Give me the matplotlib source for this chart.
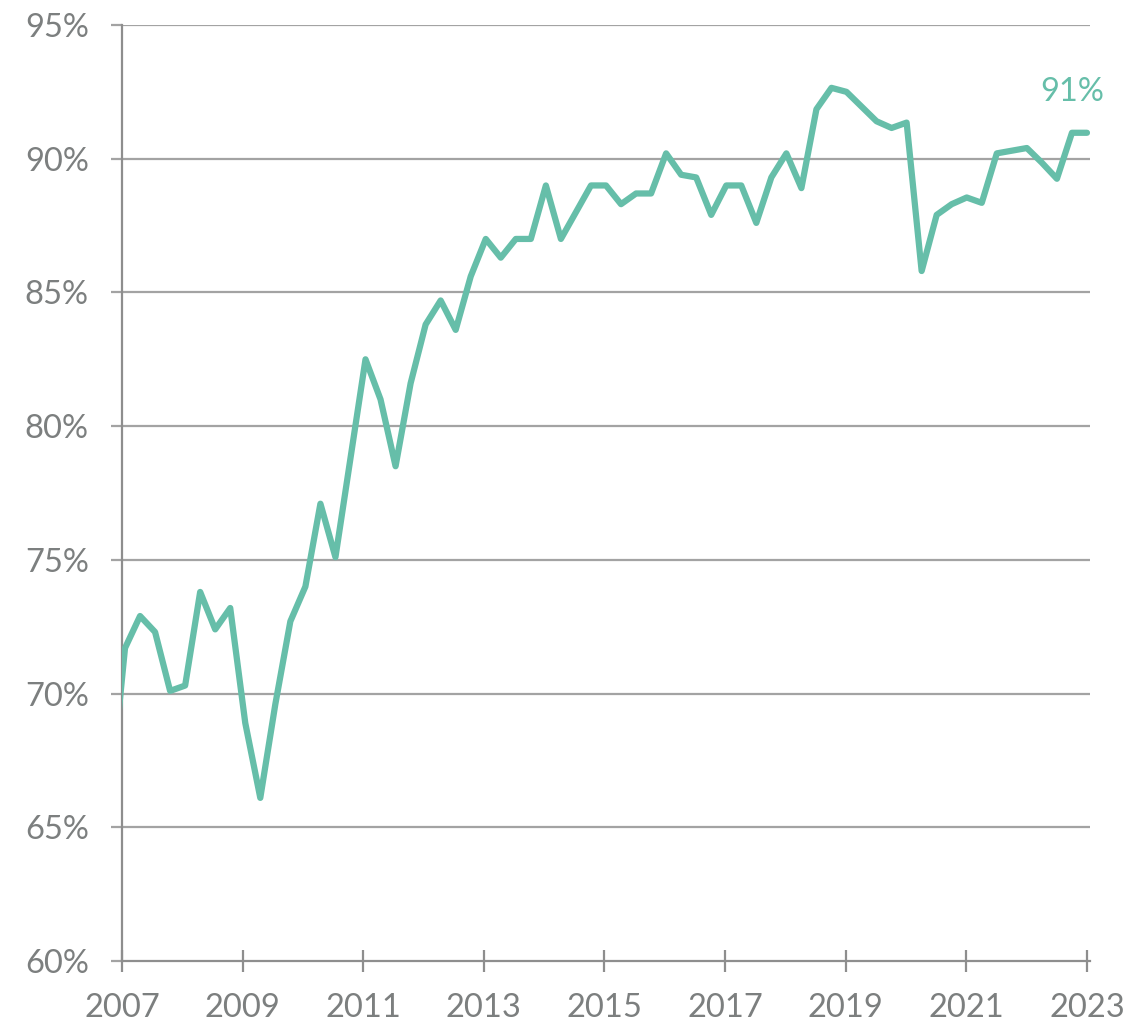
import numpy as np
import matplotlib
matplotlib.use("Agg")
import matplotlib.pyplot as plt

# Quarterly share (%), 2007 .. 2023
prior_value = 66.0  # point just before 2007 (clipped at left edge)
values = [
    71.7, 72.9, 72.3, 70.1, 70.3, 73.8, 72.4, 73.2,   # 2007-2008
    68.9, 66.1, 69.6, 72.7, 74.0, 77.1, 75.1, 78.8,   # 2009-2010
    82.5, 81.0, 78.5, 81.6, 83.8, 84.7, 83.6, 85.6,   # 2011-2012
    87.0, 86.3, 87.0, 87.0, 89.0, 87.0, 88.0, 89.0,   # 2013-2014
    89.0, 88.3, 88.7, 88.7, 90.2, 89.4, 89.3, 87.9,   # 2015-2016
    89.0, 89.0, 87.6, 89.3, 90.2, 88.9, 91.85, 92.65, # 2017-2018
    92.5, 91.95, 91.4, 91.15, 91.35, 85.8, 87.9, 88.3,# 2019-2020
    88.55, 88.35, 90.2, 90.3, 90.4, 89.85, 89.25, 90.97, # 2021-2022
    90.97,                                            # 2023
]
year_ticks = [2007, 2009, 2011, 2013, 2015, 2017, 2019, 2021, 2023]
pct_ticks = [60, 65, 70, 75, 80, 85, 90, 95]
end_label = "91%"

LINE = "#66bea9"
TXT = "#7c7f7f"
GRID = "#a3a3a3"
AXC = "#8e8e8e"
FS = 23.5

x = np.linspace(2007.05, 2023.0, len(values))
xs = np.concatenate([[x[0] - 0.25], x])
ys = np.concatenate([[prior_value], values])

fig = plt.figure(figsize=(11.27, 10.22), dpi=100)
ax = fig.add_axes([122 / 1127, 1 - 961 / 1022, (1090 - 122) / 1127, (961 - 25) / 1022])

ax.plot(xs, ys, color=LINE, lw=4.5, solid_joinstyle="round", solid_capstyle="round", zorder=3)

ax.set_xlim(2007, 2023.05)
ax.set_ylim(60, 95)
ax.set_xticks(year_ticks)
ax.set_xticklabels([str(t) for t in year_ticks])
ax.set_yticks(pct_ticks)
ax.set_yticklabels([f"{t}%" for t in pct_ticks])

for t in pct_ticks[1:]:
    ax.axhline(t, color=GRID, lw=1.6, zorder=1)

for s in ["top", "right"]:
    ax.spines[s].set_visible(False)
for s in ["left", "bottom"]:
    ax.spines[s].set_color(AXC)
    ax.spines[s].set_linewidth(1.6)

ax.tick_params(axis="x", direction="inout", length=16, width=1.6, color=AXC,
               labelsize=FS, labelcolor=TXT, pad=15)
ax.tick_params(axis="y", direction="out", length=8, width=1.6, color=GRID,
               labelsize=FS, labelcolor=TXT, pad=16)
for lab in ax.get_xticklabels() + ax.get_yticklabels():
    lab.set_family(["Lato", "DejaVu Sans"])

ax.annotate(end_label, xy=(x[-1], values[-1]), xytext=(-14.5 * 0.72, 41 * 0.72),
            textcoords="offset points", ha="center", va="center",
            color=LINE, fontsize=FS, family=["Lato", "DejaVu Sans"])

fig.savefig("out.png", dpi=100)
